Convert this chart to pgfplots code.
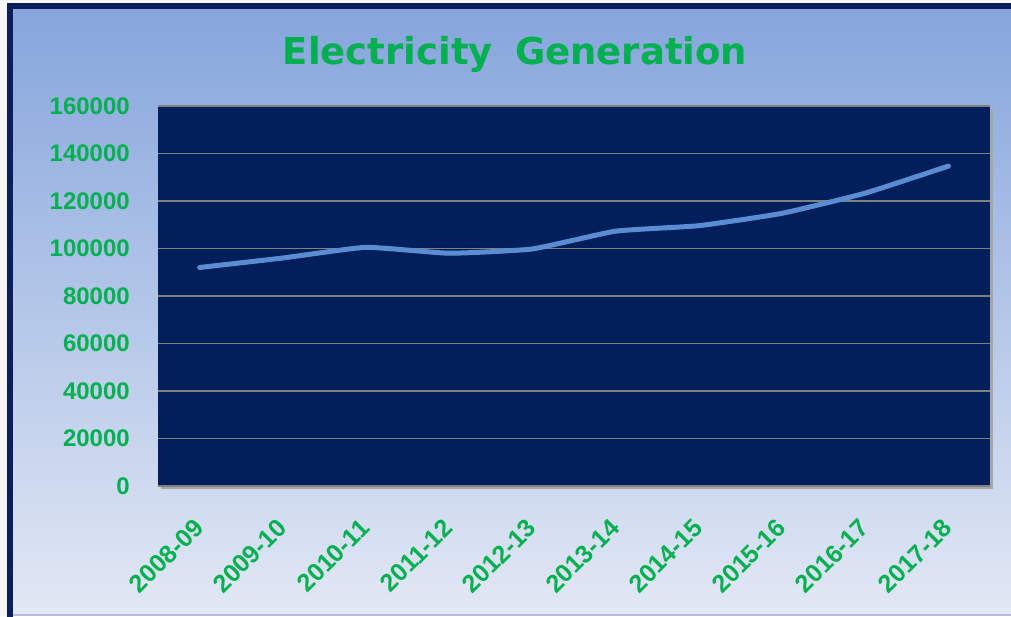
\documentclass[border=0pt]{standalone}
\usepackage{pgfplots}
\pgfplotsset{compat=1.18}
\usepackage{fontspec}
\setmainfont{Liberation Sans}
\newfontfamily\titlefont{DejaVu Sans}
\definecolor{navy}{HTML}{0A1F5C}
\definecolor{plotbg}{HTML}{001F5B}
\definecolor{bgtop}{HTML}{85A5DC}
\definecolor{bgbot}{HTML}{E2E8F4}
\definecolor{xlgreen}{HTML}{00B050}
\definecolor{linecol}{HTML}{5B8CD2}
\definecolor{gridgray}{HTML}{808080}
\begin{document}
\begin{tikzpicture}[x=1pt,y=1pt]
\useasboundingbox (0,0) rectangle (1011,616);
\clip (0,0) rectangle (1011,616);
\fill[white!94!gray] (0,0) rectangle (1011,616);
\shade[top color=bgtop,bottom color=bgbot] (10,2) rectangle (1030,610);
\draw[navy, line width=6pt] (10,-10) -- (10,610) -- (1040,610);
\draw[gray!60!blue!40, line width=2pt] (13,1) -- (1011,1);
\fill[gray!70] (161,127) rectangle (993,507);
\node[anchor=base, font=\titlefont\bfseries\fontsize{37}{40}\selectfont, text=xlgreen, inner sep=0pt] at (515,551) {Electricity\hspace{0.6em}Generation};
\begin{axis}[
  at={(158pt,130pt)}, anchor=south west,
  scale only axis, width=832pt, height=380pt,
  xmin=-0.5, xmax=9.5, ymin=0, ymax=160000,
  axis background/.style={fill=plotbg},
  axis line style={draw=none},
  major tick length=0pt,
  xtick={0,...,9},
  xticklabels={2008-09,2009-10,2010-11,2011-12,2012-13,2013-14,2014-15,2015-16,2016-17,2017-18},
  ytick={0,20000,...,160000},
  scaled y ticks=false,
  ymajorgrids,
  grid style={gridgray, line width=1.5pt},
  /pgf/number format/assume math mode=true,
  yticklabel style={/pgf/number format/fixed,/pgf/number format/1000 sep={}, font=\bfseries\fontsize{24}{26}\selectfont, text=xlgreen, inner sep=0pt, anchor=east, xshift=-28pt},
  xticklabel style={font=\bfseries\fontsize{25}{27}\selectfont, text=xlgreen, rotate=45, anchor=north east, inner sep=0pt, yshift=-17pt, xshift=-27pt},
  clip=false,
]
\addplot[linecol, line width=5pt, line join=round, line cap=round, smooth, tension=0.25] coordinates {
(0,92000) (1,96000) (2,100500) (3,98000) (4,99800) (5,107300) (6,109600) (7,114800) (8,123300) (9,134700)
};
\end{axis}
\end{tikzpicture}
\end{document}
